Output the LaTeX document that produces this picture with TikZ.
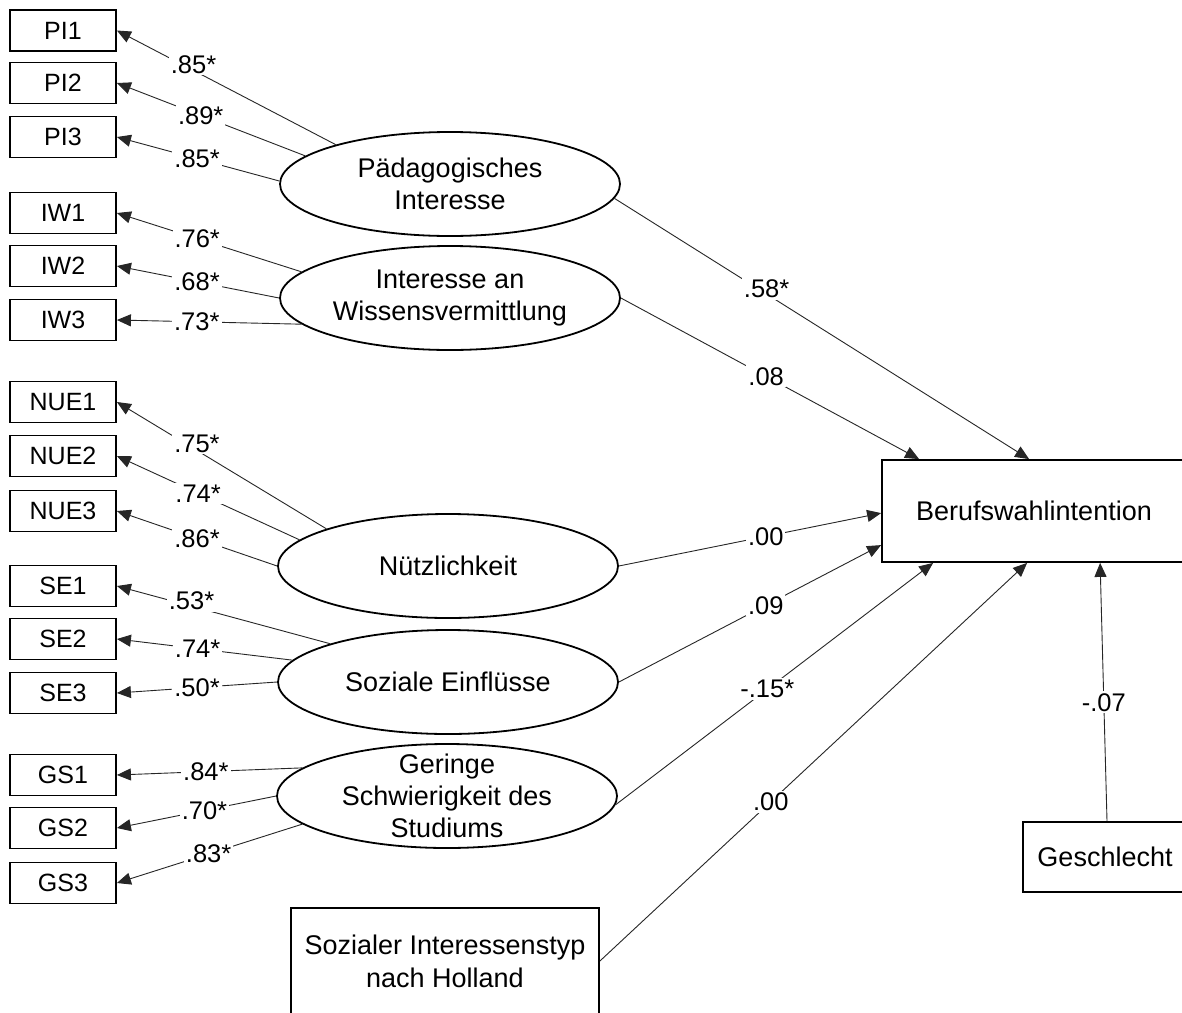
\documentclass[tikz,border=0pt]{standalone}
\usepackage{fontspec}
\setmainfont{Liberation Sans}
\usetikzlibrary{shapes.geometric,arrows.meta,calc}
\begin{document}
\begin{tikzpicture}[x=1pt,y=-1pt,
  ind/.style={draw, line width=1.8pt, minimum width=106pt, minimum height=41pt, inner sep=0pt, font=\fontsize{25}{30}\selectfont},
  lat/.style={draw, ellipse, line width=1.8pt, minimum width=340pt, minimum height=104pt, inner sep=0pt},
  lattext/.style={align=center, font=\fontsize{27}{32}\selectfont, inner sep=0pt},
  obs/.style={draw, line width=1.8pt, inner sep=0pt, align=center, font=\fontsize{27}{33}\selectfont},
  con/.style={line width=0.9pt, black!85, -{Triangle[length=14pt,width=12pt]}},
  coef/.style={fill=white, inner sep=2pt, text=black, font=\fontsize{25.5}{30}\selectfont},
]
\useasboundingbox (0,0) rectangle (1182,1012);
\fill[white] (0,0) rectangle (1182,1012);
\clip (0,0) rectangle (1182,1012);

% indicators
\node[ind] (PI1) at (63,30.5) {PI1};
\node[ind] (PI2) at (63,83) {PI2};
\node[ind] (PI3) at (63,137) {PI3};
\node[ind] (IW1) at (63,213) {IW1};
\node[ind] (IW2) at (63,266) {IW2};
\node[ind] (IW3) at (63,320) {IW3};
\node[ind] (NUE1) at (63,402) {NUE1};
\node[ind] (NUE2) at (63,456) {NUE2};
\node[ind] (NUE3) at (63,511) {NUE3};
\node[ind] (SE1) at (63,586) {SE1};
\node[ind] (SE2) at (63,639) {SE2};
\node[ind] (SE3) at (63,693) {SE3};
\node[ind] (GS1) at (63,775) {GS1};
\node[ind] (GS2) at (63,828) {GS2};
\node[ind] (GS3) at (63,883) {GS3};

% latent variables
\node[lat] (E1) at (450,184) {};
\node[lattext] (E1t) at (E1) {Pädagogisches\\Interesse};
\node[lat] (E2) at (450,298) {};
\node[lattext] (E2t) at (E2) {Interesse an\\Wissensvermittlung};
\node[lat] (E3) at (448,566) {};
\node[lattext] (E3t) at (E3) {Nützlichkeit};
\node[lat] (E4) at (448,682) {};
\node[lattext] (E4t) at (E4) {Soziale Einflüsse};
\node[lat] (E5) at (447,796) {};
\node[lattext] (E5t) at (E5) {Geringe\\Schwierigkeit des\\Studiums};

% observed
\node[obs, minimum width=304pt, minimum height=102pt] (B) at (1034,511) {Berufswahlintention};
\node[obs, minimum width=164pt, minimum height=70pt] (G) at (1105,857) {Geschlecht};
\node[obs, minimum width=308pt, minimum height=106pt] (S) at (445,961) {Sozialer Interessenstyp\\nach Holland};

% loadings
\draw[con] (E1.161) -- node[coef,pos=.65,yshift=6pt]{.85*} (PI1.east);
\draw[con] (E1.169.6) -- node[coef,pos=.555]{.89*} (PI2.east);
\draw[con] (E1.179.5) -- node[coef,pos=.506]{.85*} (PI3.east);
\draw[con] (E2.170) -- node[coef,pos=.565]{.76*} (IW1.east);
\draw[con] (E2.180) -- node[coef,pos=.506]{.68*} (IW2.east);
\draw[con] (E2.190.8) -- node[coef,pos=.567]{.73*} (IW3.east);
\draw[con] (E3.163.3) -- node[coef,pos=.618,yshift=7pt]{.75*} (NUE1.east);
\draw[con] (E3.170.5) -- node[coef,pos=.555]{.74*} (NUE2.east);
\draw[con] (E3.180) -- node[coef,pos=.5]{.86*} (NUE3.east);
\draw[con] (E4.162.6) -- node[coef,pos=.65,yshift=5pt]{.53*} (SE1.east);
\draw[con] (E4.172.2) -- node[coef,pos=.54]{.74*} (SE2.east);
\draw[con] (E4.180) -- node[coef,pos=.5]{.50*} (SE3.east);
\draw[con] (E5.169.8) -- node[coef,pos=.52]{.84*} (GS1.east);
\draw[con] (E5.180) -- node[coef,pos=.45]{.70*} (GS2.east);
\draw[con] (E5.191.5) -- node[coef,pos=.505]{.83*} (GS3.east);

% structural paths
\draw[con] (E1.355.6) -- node[coef,pos=.367,yshift=5pt]{.58*} ($(B.north west)+(148,0)$);
\draw[con] (E2.east) -- node[coef,pos=.487]{.08} ($(B.north west)+(38,0)$);
\draw[con] (E3.east) -- node[coef,pos=.56]{.00} ($(B.north west)+(0,54)$);
\draw[con] (E4.east) -- node[coef,pos=.56]{.09} ($(B.north west)+(0,86)$);
\draw[con] (E5.357.6) -- node[coef,pos=.478]{-.15*} ($(B.south west)+(52,0)$);
\draw[con] (S.east) -- node[coef,pos=.4]{.00} ($(B.south west)+(146,0)$);
\draw[con] ($(G.north)+(2,0)$) -- node[coef,pos=.46]{-.07} ($(B.south west)+(219,0)$);
\end{tikzpicture}
\end{document}
